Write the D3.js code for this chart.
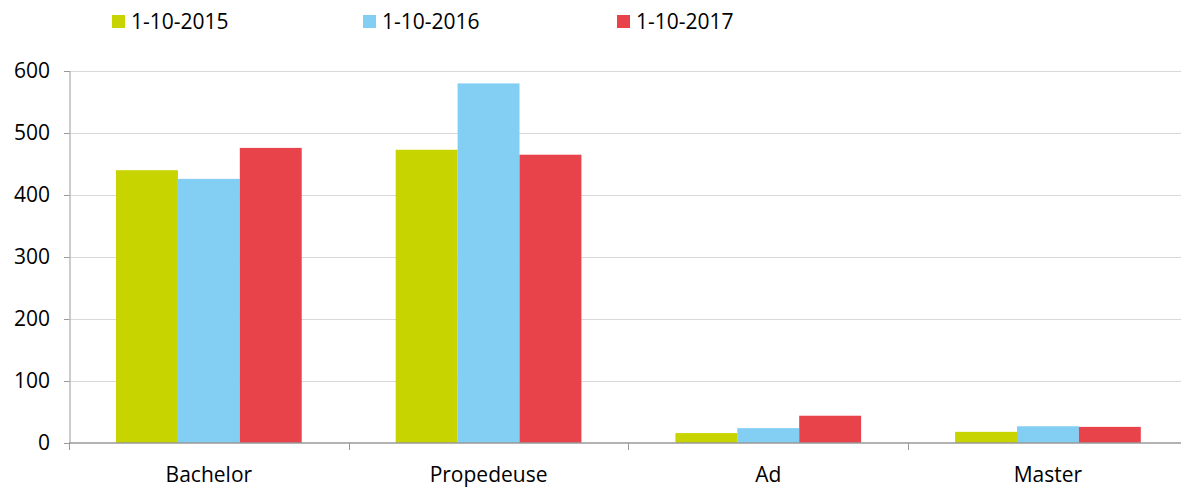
<!DOCTYPE html>
<html>
<head>
<meta charset="utf-8">
<script src="https://cdn.jsdelivr.net/npm/d3@7"></script>
<style>
  body { margin: 0; background: #fff; }
  svg { display: block; font-family: 'Open Sans', sans-serif; }
</style>
</head>
<body>
<svg id="chart" width="1181" height="487"></svg>
<script>
// data
const categories = ['Bachelor', 'Propedeuse', 'Ad', 'Master']
const seriesNames = ['1-10-2015', '1-10-2016', '1-10-2017']
const values2015 = [440, 473, 16, 18]
const values2016 = [426, 580, 24, 27]
const values2017 = [476, 465, 44, 26]
const yTicks = [0, 100, 200, 300, 400, 500, 600]

const COLORS = ['#c8d400', '#83cff3', '#e8434a']
const margin = { top: 71, bottom: 44, left: 69 }
const WIDTH = 1181
const HEIGHT = 487
const BAND = 279.7 // the last band runs past the right edge
const width = BAND * categories.length
const height = HEIGHT - margin.top - margin.bottom
const gridRight = WIDTH - margin.left

const allSeries = [values2015, values2016, values2017]

let svg = d3.select('#chart')
let canvas = svg.append('g')
  .attr('transform', `translate(${margin.left}, ${margin.top})`)

let xScale = d3.scaleBand().domain(categories).range([0, width]).padding(0)
let yScale = d3.scaleLinear().domain([0, 600]).range([height, 0])
let gap = xScale.bandwidth() * 0.168
let subScale = d3.scaleBand().domain(d3.range(seriesNames.length))
  .range([gap, xScale.bandwidth() - gap]).padding(0)

// gridlines
canvas.append('g')
  .selectAll('line')
  .data(yTicks.filter(d => d > 0))
  .join('line')
  .attr('x1', 0)
  .attr('x2', gridRight)
  .attr('y1', d => Math.round(yScale(d)) + 0.5)
  .attr('y2', d => Math.round(yScale(d)) + 0.5)
  .attr('stroke', '#d9d9d9')
  .attr('stroke-width', 1)

// bars
let groups = canvas.append('g')
  .selectAll('g')
  .data(categories)
  .join('g')
  .attr('transform', d => `translate(${xScale(d)}, 0)`)
groups.selectAll('rect')
  .data((d, i) => allSeries.map((s, k) => ({ k, v: s[i] })))
  .join('rect')
  .attr('x', d => subScale(d.k))
  .attr('width', subScale.bandwidth())
  .attr('y', d => yScale(d.v))
  .attr('height', d => height - yScale(d.v))
  .attr('fill', d => COLORS[d.k])

// y axis
let yg = canvas.append('g')
yg.call(d3.axisLeft(yScale).tickValues(yTicks).tickSize(5).tickPadding(14))
yg.select('.domain').attr('stroke', '#999').attr('transform', 'translate(0.5,0)')
yg.selectAll('.tick line').attr('stroke', '#999')
yg.selectAll('.tick text')
  .style('font-size', '21px')
  .style('font-family', "'Open Sans', sans-serif")
  .attr('fill', '#000')

// x axis
let xg = canvas.append('g').attr('transform', `translate(0, ${height})`)
xg.call(d3.axisBottom(xScale).tickSize(0).tickPadding(24))
xg.select('.domain').remove()
xg.append('line')
  .attr('x1', 0)
  .attr('x2', gridRight)
  .attr('stroke', '#999')
  .attr('stroke-width', 1.5)
xg.selectAll('.tick text')
  .style('font-size', '21px')
  .style('font-family', "'Open Sans', sans-serif")
  .attr('fill', '#000')
// category boundary ticks
xg.append('g')
  .selectAll('line')
  .data(categories)
  .join('line')
  .attr('x1', d => Math.round(xScale(d)) + 0.5)
  .attr('x2', d => Math.round(xScale(d)) + 0.5)
  .attr('y1', 0)
  .attr('y2', 7)
  .attr('stroke', '#999')

// legend
const legendX = [112, 363, 617]
let legend = svg.append('g')
  .selectAll('g')
  .data(seriesNames)
  .join('g')
  .attr('transform', (d, i) => `translate(${legendX[i]}, 15)`)
legend.append('rect')
  .attr('width', 13)
  .attr('height', 13)
  .attr('fill', (d, i) => COLORS[i])
legend.append('text')
  .attr('x', 19)
  .attr('y', 14)
  .style('font-size', '21px')
  .attr('fill', '#000')
  .text(d => d)
</script>
</body>
</html>
